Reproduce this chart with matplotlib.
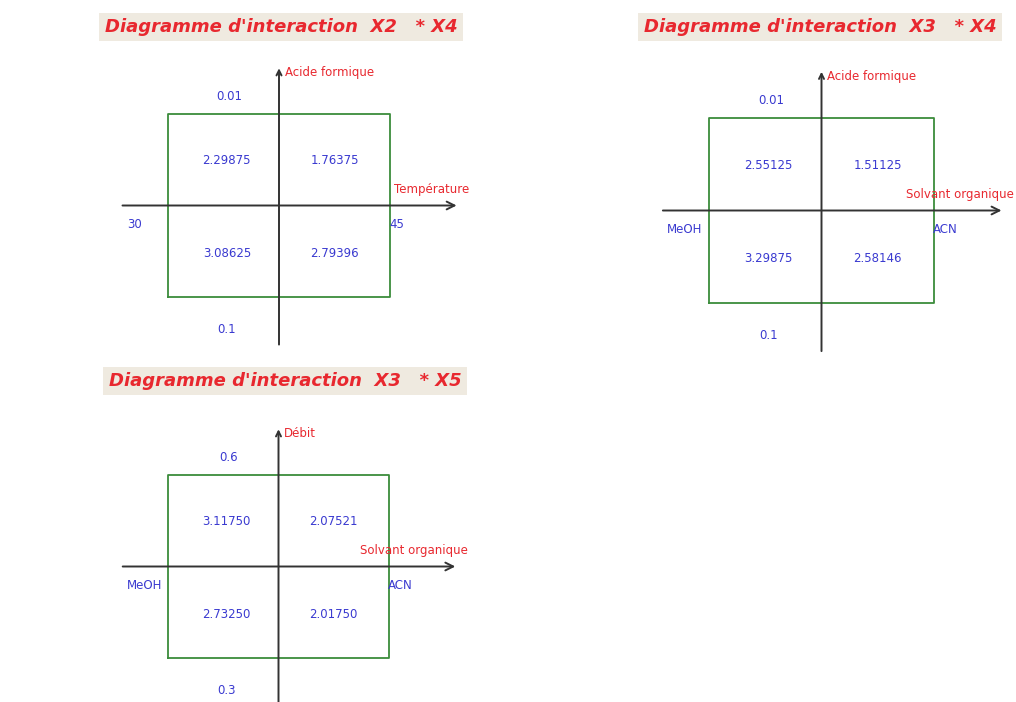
import matplotlib
matplotlib.use("Agg")
import matplotlib.pyplot as plt

W, H = 1016, 702
fig = plt.figure(figsize=(W / 100, H / 100), dpi=100)
fig.patch.set_facecolor("white")

# ---- data ----
titles = ["Diagramme d'interaction  X2   * X4",
          "Diagramme d'interaction  X3   * X4",
          "Diagramme d'interaction  X3   * X5"]
x_names = ["Température", "Solvant organique", "Solvant organique"]
y_names = ["Acide formique", "Acide formique", "Débit"]
x_levels = [["30", "45"], ["MeOH", "ACN"], ["MeOH", "ACN"]]
y_levels = [["0.01", "0.1"], ["0.01", "0.1"], ["0.6", "0.3"]]
# values: [top-left, top-right, bottom-left, bottom-right]
values_fmt = [["2.29875", "1.76375", "3.08625", "2.79396"],
              ["2.55125", "1.51125", "3.29875", "2.58146"],
              ["3.11750", "2.07521", "2.73250", "2.01750"]]

# ---- layout (pixel geometry of each square) ----
squares = [(168, 390, 114, 297), (709, 934, 118, 303), (168, 389, 475, 658)]
title_pos = [(281, 27), (820, 27), (285, 381)]

BLUE = "#3a3ad0"
RED = "#e8282f"
GREEN = "#3c8c3c"
AX = "#333333"
XL, YL = 1.75, 1.65

for i, (L, R, T, B) in enumerate(squares):
    cx, cy = (L + R) / 2, (T + B) / 2
    sx, sy = (R - L) / 2, (B - T) / 2
    left = (cx - XL * sx) / W
    bottom = 1 - (cy + YL * sy) / H
    ax = fig.add_axes([left, bottom, 2 * XL * sx / W, 2 * YL * sy / H])
    ax.set_xlim(-XL, XL)
    ax.set_ylim(-YL, YL)
    ax.axis("off")
    ax.patch.set_alpha(0)

    # green square
    ax.plot([-1, 1, 1, -1, -1], [-1, -1, 1, 1, -1], color=GREEN, lw=1.3, zorder=2)
    # axes with arrows
    ax.annotate("", xy=(1.6, 0), xytext=(-1.41, 0),
                arrowprops=dict(arrowstyle="->", color=AX, lw=1.4, mutation_scale=14,
                                shrinkA=0, shrinkB=0), zorder=3)
    ax.annotate("", xy=(0, 1.5), xytext=(0, -1.52),
                arrowprops=dict(arrowstyle="->", color=AX, lw=1.4, mutation_scale=9,
                                shrinkA=0, shrinkB=0), zorder=3, annotation_clip=False)

    vals = values_fmt[i]
    pos = [(-0.47, 0.49), (0.5, 0.49), (-0.47, -0.52), (0.5, -0.52)]
    for (px, py), v in zip(pos, vals):
        ax.text(px, py, v, color=BLUE, fontsize=8.5, ha="center", va="center",
                family="DejaVu Sans")

    ax.text(-0.45, 1.19, y_levels[i][0], color=BLUE, fontsize=8.5, ha="center", va="center")
    ax.text(-0.47, -1.35, y_levels[i][1], color=BLUE, fontsize=8.5, ha="center", va="center")
    ax.text(-1.37, -0.21, x_levels[i][0], color=BLUE, fontsize=8.5, ha="left", va="center")
    ax.text(0.99, -0.21, x_levels[i][1], color=BLUE, fontsize=8.5, ha="left", va="center")

    ax.text(1.71, 0.17, x_names[i], color=RED, fontsize=8.5, ha="right", va="center")
    ax.text(0.05, 1.45, y_names[i], color=RED, fontsize=8.5, ha="left", va="center")

    tx, ty = title_pos[i]
    fig.text(tx / W, 1 - ty / H, titles[i], color=RED, fontsize=13,
             fontweight="bold", fontstyle="oblique", family="DejaVu Sans",
             ha="center", va="center",
             bbox=dict(boxstyle="square,pad=0.3", facecolor="#efeae0", edgecolor="none"))

fig.savefig("out.png", dpi=100)
